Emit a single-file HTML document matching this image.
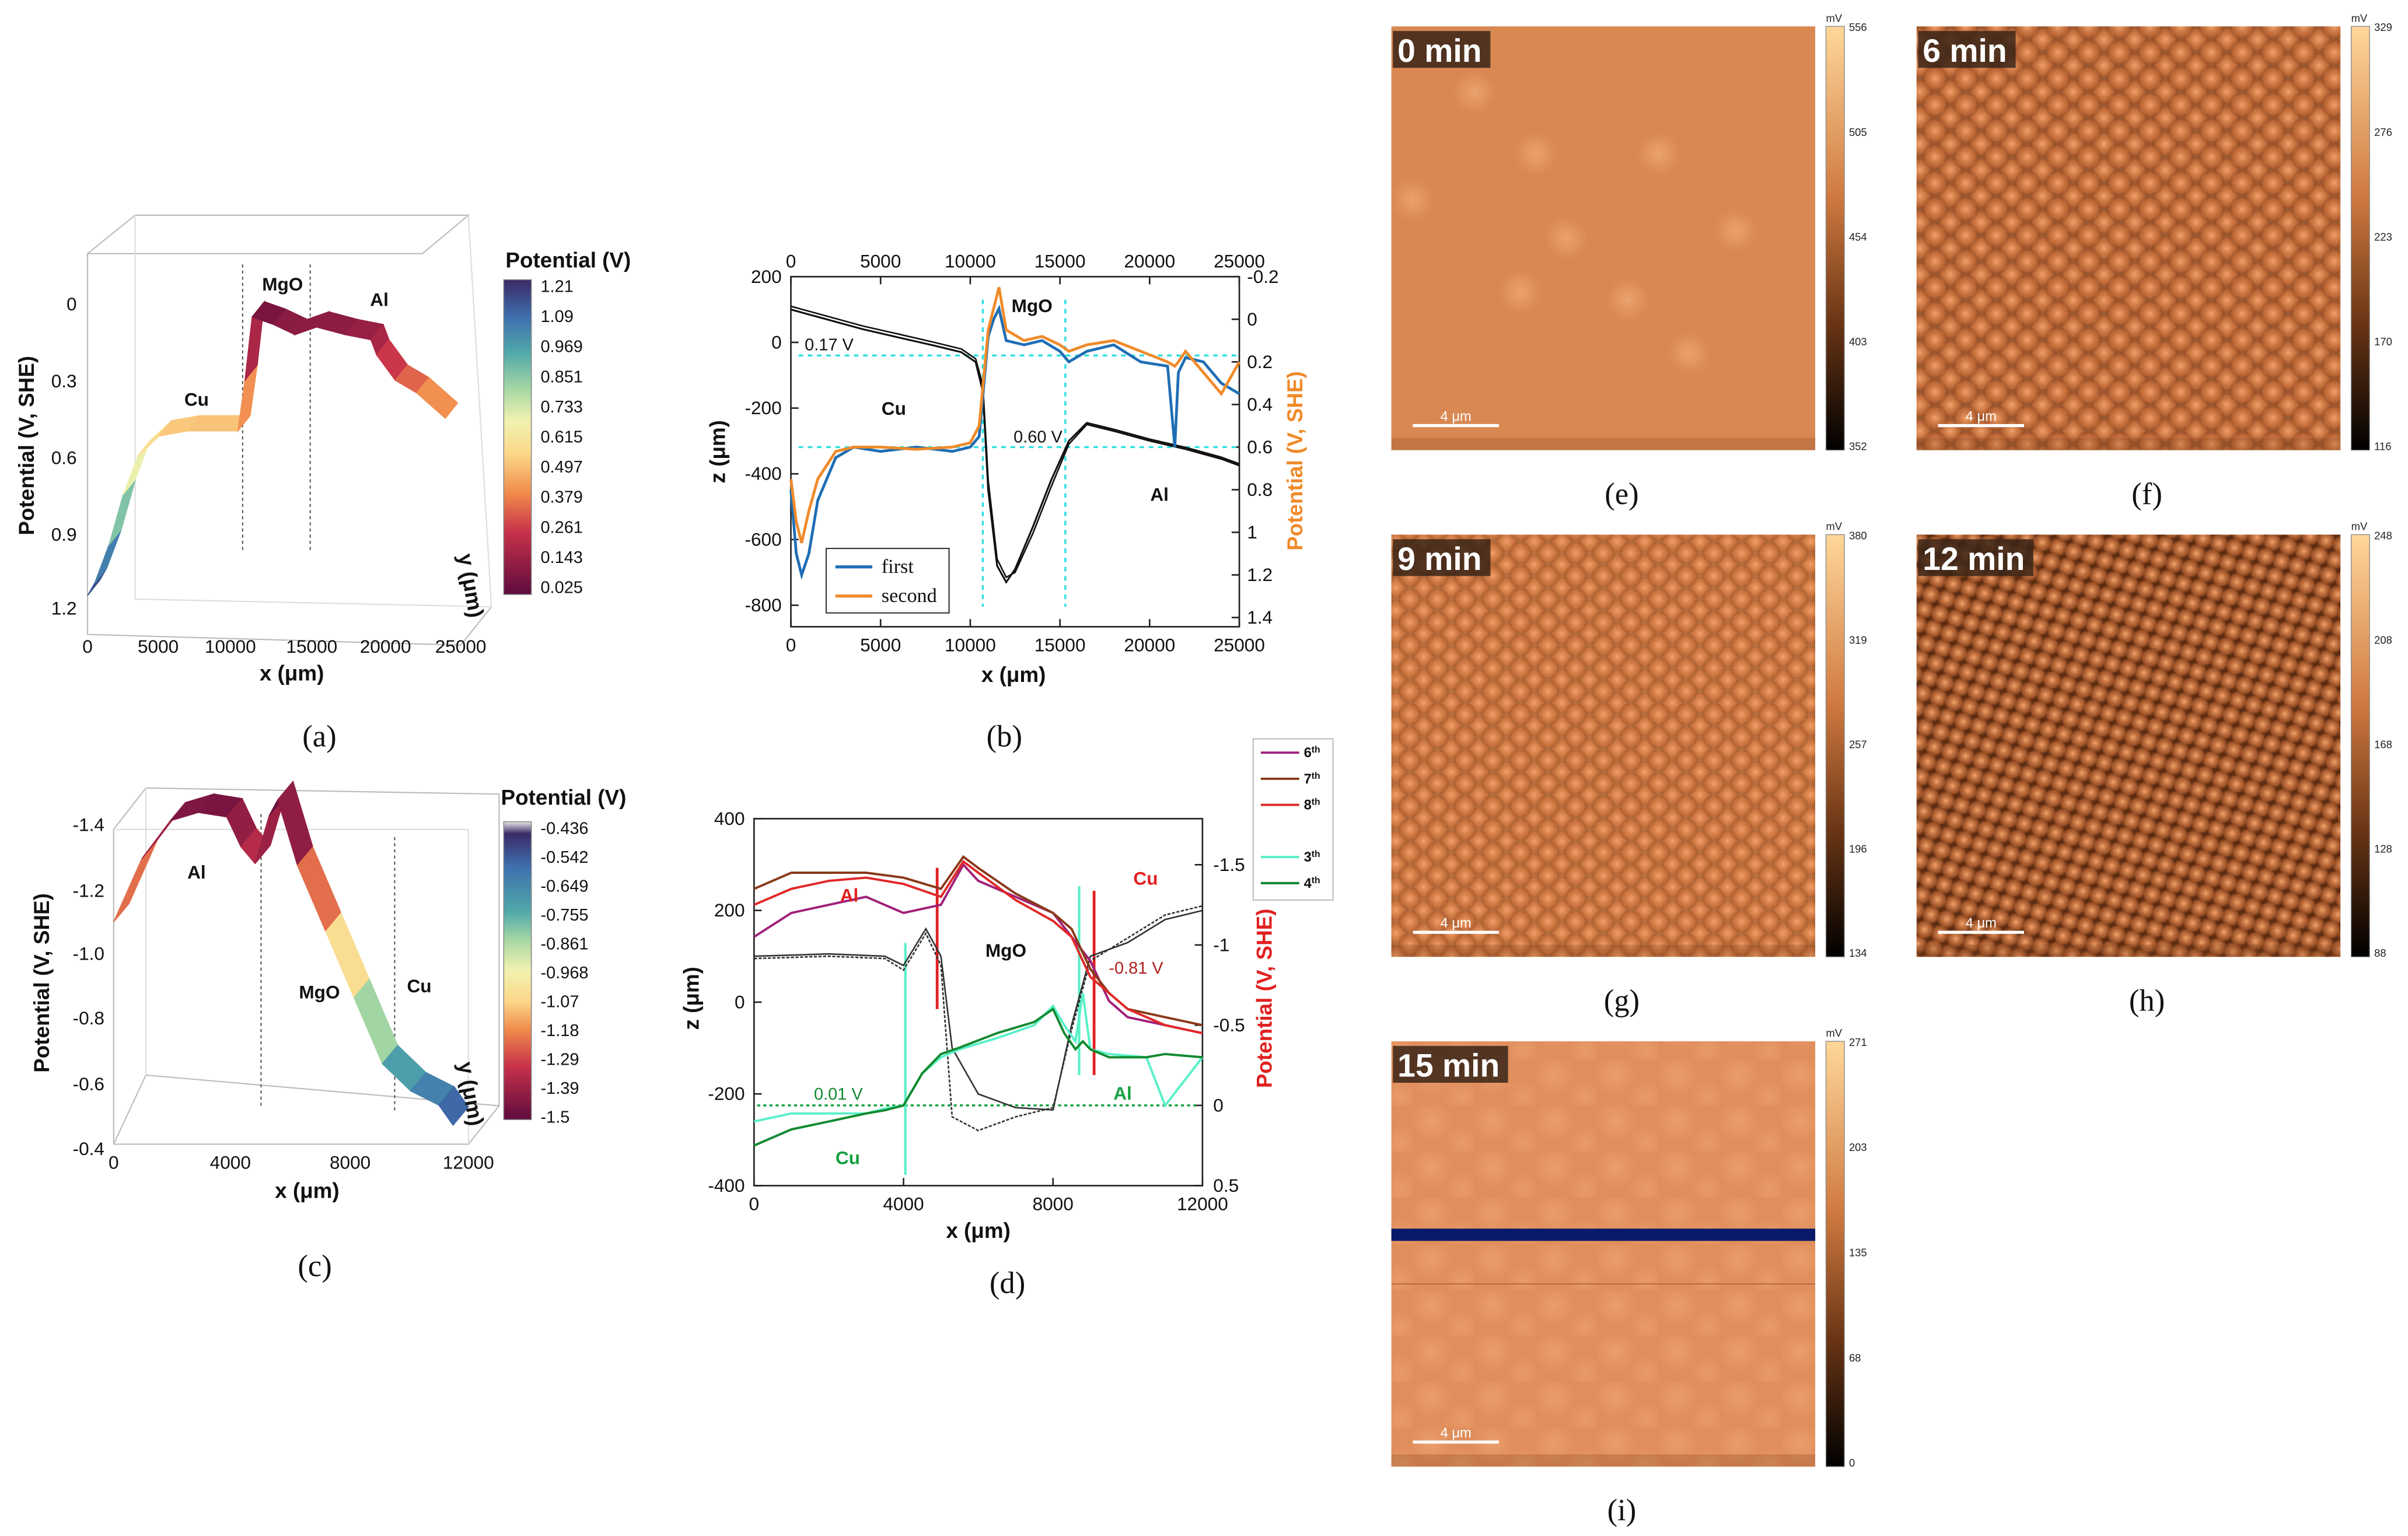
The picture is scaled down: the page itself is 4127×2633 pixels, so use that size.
<!DOCTYPE html>
<html><head><meta charset="utf-8"><style>
html,body{margin:0;padding:0;background:#fff;}
svg{display:block;font-family:"Liberation Sans",sans-serif;}
.tk{font-size:12px;fill:#111;}
.lb{font-size:14px;font-weight:bold;fill:#111;}
.cap{font-family:"Liberation Serif",serif;font-size:20px;fill:#111;}
.cbt{font-size:11px;fill:#111;}
.mt{font-size:7px;fill:#222;}
</style></head><body>
<svg id="fig" width="4127" height="2633" viewBox="0 0 1568 1000" xmlns="http://www.w3.org/2000/svg">
<defs>
<linearGradient id="cmA" x1="0" y1="1" x2="0" y2="0">
<stop offset="0" stop-color="#5e0b3d"/><stop offset="0.2" stop-color="#c8324a"/><stop offset="0.32" stop-color="#f08a4b"/><stop offset="0.45" stop-color="#fbd98a"/><stop offset="0.55" stop-color="#f2f2b0"/><stop offset="0.65" stop-color="#a8d8a4"/><stop offset="0.77" stop-color="#4fa8aa"/><stop offset="0.88" stop-color="#3f6fae"/><stop offset="1" stop-color="#3a2a66"/>
</linearGradient>
<linearGradient id="cmC" x1="0" y1="0" x2="0" y2="1">
<stop offset="0" stop-color="#e8e8e8"/><stop offset="0.04" stop-color="#3a2a66"/><stop offset="0.15" stop-color="#3f6fae"/><stop offset="0.3" stop-color="#4fa8aa"/><stop offset="0.4" stop-color="#a8d8a4"/><stop offset="0.5" stop-color="#f2f2b0"/><stop offset="0.6" stop-color="#fbd98a"/><stop offset="0.7" stop-color="#f08a4b"/><stop offset="0.82" stop-color="#c8324a"/><stop offset="1" stop-color="#5e0b3d"/>
</linearGradient>
<linearGradient id="cmI" x1="0" y1="1" x2="0" y2="0">
<stop offset="0" stop-color="#000"/><stop offset="0.3" stop-color="#6a3515"/><stop offset="0.6" stop-color="#d07a40"/><stop offset="1" stop-color="#ffd79a"/>
</linearGradient>
<radialGradient id="blob"><stop offset="0" stop-color="#f6b27c" stop-opacity="0.9"/><stop offset="1" stop-color="#f6b27c" stop-opacity="0"/></radialGradient>
<radialGradient id="blobD"><stop offset="0" stop-color="#f3a26a" stop-opacity="1"/><stop offset="0.7" stop-color="#c86d38" stop-opacity="0.6"/><stop offset="1" stop-color="#5a2a10" stop-opacity="0"/></radialGradient>
<pattern id="pf" width="20" height="17" patternUnits="userSpaceOnUse"><rect width="20" height="17" fill="#a85e33"/><circle cx="10" cy="8.5" r="9" fill="url(#blobD)"/><circle cx="0" cy="0" r="9" fill="url(#blobD)"/><circle cx="20" cy="0" r="9" fill="url(#blobD)"/><circle cx="0" cy="17" r="9" fill="url(#blobD)"/><circle cx="20" cy="17" r="9" fill="url(#blobD)"/></pattern>
<pattern id="pg" width="18" height="15" patternUnits="userSpaceOnUse"><rect width="18" height="15" fill="#c87a45"/><circle cx="9" cy="7.5" r="8" fill="url(#blobD)"/><circle cx="0" cy="0" r="8" fill="url(#blobD)"/><circle cx="18" cy="0" r="8" fill="url(#blobD)"/><circle cx="0" cy="15" r="8" fill="url(#blobD)"/><circle cx="18" cy="15" r="8" fill="url(#blobD)"/></pattern>
<pattern id="ph" width="16" height="14" patternUnits="userSpaceOnUse" patternTransform="rotate(-25)"><rect width="16" height="14" fill="#5a2a10"/><circle cx="8" cy="7" r="7" fill="url(#blobD)"/><circle cx="0" cy="0" r="7" fill="url(#blobD)"/><circle cx="16" cy="0" r="7" fill="url(#blobD)"/><circle cx="0" cy="14" r="7" fill="url(#blobD)"/><circle cx="16" cy="14" r="7" fill="url(#blobD)"/></pattern>
<pattern id="pi" width="40" height="30" patternUnits="userSpaceOnUse"><rect width="40" height="30" fill="#e08e5c"/><circle cx="12" cy="10" r="14" fill="url(#blob)" opacity="0.5"/><circle cx="32" cy="24" r="12" fill="url(#blob)" opacity="0.4"/></pattern>
</defs>
<g id="root"></g>
</svg>
<script>
// ---------- data ----------
const aX=[0,500,1500,2500,3500,5000,7000,9000,10500,11000,11500,13000,14500,16000,18000,19800,20200,21500,23000,25000];
const aPot=[1.15,1.1,0.95,0.75,0.6,0.52,0.5,0.5,0.5,0.3,0.05,0.08,0.12,0.09,0.12,0.14,0.2,0.3,0.35,0.45];
const cX=[0,1000,2000,3000,4000,4500,5000,5500,5800,6500,7500,8500,9500,10500,11500,12000];
const cPot=[-1.1,-1.3,-1.42,-1.45,-1.44,-1.35,-1.3,-1.45,-1.5,-1.3,-1.1,-0.9,-0.7,-0.62,-0.58,-0.52];
const bX=[0,2000,4000,6000,8000,9500,10300,10700,11000,11500,12000,12500,13500,14500,15500,16500,18000,20000,22000,24000,25000];
const bZ1=[100,70,40,15,-10,-30,-60,-150,-450,-680,-730,-690,-560,-420,-300,-245,-265,-295,-320,-350,-370];
const bZ2=[110,80,50,25,0,-20,-50,-130,-420,-660,-715,-700,-580,-440,-310,-250,-270,-300,-325,-355,-375];
const bPX=[0,300,600,1000,1500,2500,3500,5000,7000,9000,10000,10500,11000,11300,11600,12000,13000,14000,15000,15500,16500,18000,19500,21000,21400,21600,22000,23000,24000,25000];
const bFirst=[0.8,1.1,1.2,1.1,0.85,0.65,0.6,0.62,0.6,0.62,0.6,0.55,0.08,0.0,-0.05,0.1,0.12,0.1,0.15,0.2,0.15,0.12,0.2,0.22,0.6,0.25,0.18,0.2,0.3,0.35];
const bSecond=[0.75,0.95,1.05,0.9,0.75,0.62,0.6,0.6,0.61,0.6,0.58,0.5,0.05,-0.05,-0.15,0.05,0.1,0.08,0.12,0.15,0.12,0.1,0.15,0.2,0.22,0.2,0.15,0.25,0.35,0.2];
const dX=[0,1000,2000,3000,4000,5000,5600,6000,7000,8000,8500,9000,9500,10000,11000,12000];
const d6=[-1.05,-1.2,-1.25,-1.3,-1.2,-1.25,-1.5,-1.4,-1.3,-1.2,-1.05,-0.9,-0.65,-0.55,-0.5,-0.45];
const d7=[-1.35,-1.45,-1.45,-1.45,-1.42,-1.35,-1.55,-1.48,-1.32,-1.2,-1.1,-0.85,-0.7,-0.6,-0.55,-0.5];
const d8=[-1.25,-1.35,-1.4,-1.42,-1.38,-1.3,-1.52,-1.45,-1.28,-1.15,-1.05,-0.8,-0.7,-0.6,-0.5,-0.45];
const dgX=[0,1000,2000,3000,3500,4000,4500,5000,5500,6500,7500,8000,8300,8600,8800,9000,9500,10500,11000,12000];
const d3=[0.1,0.05,0.05,0.05,0.02,0.0,-0.2,-0.3,-0.35,-0.42,-0.5,-0.62,-0.5,-0.4,-0.7,-0.35,-0.32,-0.3,0.0,-0.3];
const d4=[0.25,0.15,0.1,0.05,0.03,0.0,-0.2,-0.32,-0.36,-0.45,-0.52,-0.6,-0.45,-0.35,-0.4,-0.35,-0.3,-0.3,-0.32,-0.3];
const dtX=[0,2000,3500,4000,4600,5000,5300,6000,7000,8000,8500,9000,10000,11000,12000];
const dT1=[100,105,100,80,160,100,-100,-200,-230,-235,-50,100,130,180,200];
const dT2=[95,100,95,70,150,80,-250,-280,-250,-230,-60,90,140,190,210];
const cbE=["556","505","454","403","352"],cbF=["329","276","223","170","116"],cbG=["380","319","257","196","134"],cbH=["248","208","168","128","88"],cbI=["271","203","135","68","0"];
const cbA=["1.21","1.09","0.969","0.851","0.733","0.615","0.497","0.379","0.261","0.143","0.025"];
const cbC=["-0.436","-0.542","-0.649","-0.755","-0.861","-0.968","-1.07","-1.18","-1.29","-1.39","-1.5"];

// ---------- helpers ----------
const NS="http://www.w3.org/2000/svg";const root=document.getElementById('root');
function el(t,a,p){const e=document.createElementNS(NS,t);for(const k in a)e.setAttribute(k,a[k]);(p||root).appendChild(e);return e;}
function txt(x,y,s,cls,extra,p){extra=Object.assign({},extra||{});let st=extra.style||'';
 if(extra['font-size']){st+=';font-size:'+extra['font-size']+'px';delete extra['font-size'];}
 if(extra['font-weight']){st+=';font-weight:'+extra['font-weight'];delete extra['font-weight'];}
 if(extra['font-family']){st+=';font-family:"'+extra['font-family']+'",serif';delete extra['font-family'];}
 if(st)extra.style=st;
 const e=el('text',Object.assign({x:x,y:y,class:cls||'tk'},extra),p);e.textContent=s;return e;}
function lin(d0,d1,r0,r1){return v=>r0+(v-d0)/(d1-d0)*(r1-r0);}
function pts(xs,ys,fx,fy){return xs.map((v,i)=>fx(v).toFixed(1)+','+fy(ys[i]).toFixed(1)).join(' ');}
const stopsA=[[0,'#5e0b3d'],[0.2,'#c8324a'],[0.32,'#f08a4b'],[0.45,'#fbd98a'],[0.55,'#f2f2b0'],[0.65,'#a8d8a4'],[0.77,'#4fa8aa'],[0.88,'#3f6fae'],[1,'#3a2a66']];
function cmap(t){t=Math.max(0,Math.min(1,t));for(let i=1;i<stopsA.length;i++){if(t<=stopsA[i][0]){const a=stopsA[i-1],b=stopsA[i];const f=(t-a[0])/(b[0]-a[0]);const ca=parseInt(a[1].slice(1),16),cb=parseInt(b[1].slice(1),16);const r=Math.round(((ca>>16)&255)*(1-f)+((cb>>16)&255)*f),g=Math.round(((ca>>8)&255)*(1-f)+((cb>>8)&255)*f),bl=Math.round((ca&255)*(1-f)+(cb&255)*f);return `rgb(${r},${g},${bl})`;}}return stopsA[stopsA.length-1][1];}

// ---------- panel a ----------
let g=el('g',{});
el('polyline',{points:'57,165 275,165 305,140 88,140 57,165 57,413 300,420 320,395',fill:'none',stroke:'#bbb','stroke-width':0.8},g);
el('polyline',{points:'88,140 88,390 320,395 305,140',fill:'none',stroke:'#ddd','stroke-width':0.8},g);
el('line',{x1:158,y1:172,x2:158,y2:360,stroke:'#555','stroke-dasharray':'2,2','stroke-width':0.8},g);
el('line',{x1:202,y1:172,x2:202,y2:360,stroke:'#555','stroke-dasharray':'2,2','stroke-width':0.8},g);
const aSX=lin(0,25000,57,290), aSY=v=>198+v/1.2*198;
for(let i=0;i<aX.length-1;i++){const x0=aSX(aX[i]),x1=aSX(aX[i+1]),y0=aSY(aPot[i]),y1=aSY(aPot[i+1]);
 const q=el('polygon',{points:`${x0},${y0} ${x1},${y1} ${x1+8},${y1-10} ${x0+8},${y0-10}`,fill:cmap((aPot[i]+aPot[i+1])/2/1.21),stroke:cmap((aPot[i]+aPot[i+1])/2/1.21),'stroke-width':0.6},g);
 }
[["0",198],["0.3",248],["0.6",298],["0.9",348],["1.2",396]].forEach(t=>txt(50,t[1]+4,t[0],'tk',{'text-anchor':'end'},g));
[["0",57],["5000",103],["10000",150],["15000",203],["20000",251],["25000",300]].forEach(t=>txt(t[1],425,t[0],'tk',{'text-anchor':'middle'},g));
txt(190,443,'x (μm)','lb',{'text-anchor':'middle'},g);
txt(22,290,'Potential (V, SHE)','lb',{'text-anchor':'middle',transform:'rotate(-90 22 290)'},g);
txt(302,382,'y (μm)','lb',{'text-anchor':'middle',transform:'rotate(80 302 382)'},g);
txt(128,264,'Cu','lb',{'text-anchor':'middle','font-size':12},g);txt(184,189,'MgO','lb',{'text-anchor':'middle','font-size':12},g);txt(247,199,'Al','lb',{'text-anchor':'middle','font-size':12},g);
el('rect',{x:328,y:182,width:18,height:205,fill:'url(#cmA)',stroke:'#888','stroke-width':0.6},g);
cbA.forEach((s,i)=>txt(352,190+i*19.6,s,'cbt',{},g));
txt(370,174,'Potential (V)','lb',{'text-anchor':'middle'},g);
txt(208,486,'(a)','cap',{'text-anchor':'middle'},g);

// ---------- panel c ----------
g=el('g',{});
el('polyline',{points:'74,745 305,745 325,720 95,700 74,745 74,540 95,513 325,517 325,720',fill:'none',stroke:'#bbb','stroke-width':0.8},g);
el('line',{x1:95,y1:513,x2:95,y2:700,stroke:'#ddd','stroke-width':0.8},g);
el('line',{x1:74,y1:540,x2:305,y2:540,stroke:'#ddd','stroke-width':0.8},g);el('line',{x1:305,y1:540,x2:305,y2:745,stroke:'#ddd','stroke-width':0.8},g);
el('line',{x1:170,y1:530,x2:170,y2:720,stroke:'#555','stroke-dasharray':'2,2','stroke-width':0.8},g);
el('line',{x1:257,y1:545,x2:257,y2:725,stroke:'#555','stroke-dasharray':'2,2','stroke-width':0.8},g);
const cSX=lin(0,12000,74,295), cSY=lin(-1.4,-0.4,537,748);
for(let i=0;i<cX.length-1;i++){const x0=cSX(cX[i]),x1=cSX(cX[i+1]),y0=cSY(cPot[i])+cX[i]/12000*10,y1=cSY(cPot[i+1])+cX[i+1]/12000*10;
 const t=(cPot[i]+cPot[i+1])/2;const c=cmap((t+1.5)/1.064);
 const q=el('polygon',{points:`${x0},${y0} ${x1},${y1} ${x1+10},${y1-12} ${x0+10},${y0-12}`,fill:c,stroke:c,'stroke-width':0.6},g);
 }
[["-1.4",537],["-1.2",580],["-1.0",621],["-0.8",663],["-0.6",706],["-0.4",748]].forEach(t=>txt(68,t[1]+4,t[0],'tk',{'text-anchor':'end'},g));
[["0",74],["4000",150],["8000",228],["12000",305]].forEach(t=>txt(t[1],761,t[0],'tk',{'text-anchor':'middle'},g));
txt(200,780,'x (μm)','lb',{'text-anchor':'middle'},g);
txt(32,640,'Potential (V, SHE)','lb',{'text-anchor':'middle',transform:'rotate(-90 32 640)'},g);
txt(302,713,'y (μm)','lb',{'text-anchor':'middle',transform:'rotate(80 302 713)'},g);
txt(128,572,'Al','lb',{'text-anchor':'middle','font-size':12},g);txt(208,650,'MgO','lb',{'text-anchor':'middle','font-size':12},g);txt(273,646,'Cu','lb',{'text-anchor':'middle','font-size':12},g);
el('rect',{x:328,y:535,width:18,height:194,fill:'url(#cmC)',stroke:'#888','stroke-width':0.6},g);
cbC.forEach((s,i)=>txt(352,543+i*18.8,s,'cbt',{},g));
txt(367,524,'Potential (V)','lb',{'text-anchor':'middle'},g);
txt(205,831,'(c)','cap',{'text-anchor':'middle'},g);

// ---------- panel b ----------
g=el('g',{});
const bx=lin(0,25000,515,807), bz=lin(200,-800,180,394), bp=lin(-0.2,1.4,180,402);
el('rect',{x:515,y:180,width:292,height:228,fill:'none',stroke:'#222','stroke-width':1},g);
[0,5000,10000,15000,20000,25000].forEach(v=>{txt(bx(v),174,String(v),'tk',{'text-anchor':'middle'},g);txt(bx(v),424,String(v),'tk',{'text-anchor':'middle'},g);el('line',{x1:bx(v),y1:180,x2:bx(v),y2:185,stroke:'#222'},g);el('line',{x1:bx(v),y1:408,x2:bx(v),y2:403,stroke:'#222'},g);});
[200,0,-200,-400,-600,-800].forEach(v=>{txt(509,bz(v)+4,String(v),'tk',{'text-anchor':'end'},g);el('line',{x1:515,y1:bz(v),x2:520,y2:bz(v),stroke:'#222'},g);});
["-0.2","0","0.2","0.4","0.6","0.8","1","1.2","1.4"].forEach(s=>{const v=parseFloat(s);txt(812,bp(v)+4,s,'tk',{},g);el('line',{x1:807,y1:bp(v),x2:802,y2:bp(v),stroke:'#222'},g);});
txt(660,444,'x (μm)','lb',{'text-anchor':'middle'},g);
txt(472,294,'z (μm)','lb',{'text-anchor':'middle',transform:'rotate(-90 472 294)'},g);
txt(848,300,'Potential (V, SHE)','lb',{'text-anchor':'middle',style:'fill:#f08a2a',transform:'rotate(-90 848 300)'},g);
[[bp(0.17)],[bp(0.6)]].forEach(a=>el('line',{x1:520,y1:a[0],x2:805,y2:a[0],stroke:'#2fe0e0','stroke-dasharray':'3,3','stroke-width':1.3},g));
[10700,15300].forEach(v=>el('line',{x1:bx(v),y1:195,x2:bx(v),y2:395,stroke:'#2fe0e0','stroke-dasharray':'3,3','stroke-width':1.3},g));
let l=el('polyline',{points:pts(bX,bZ1,bx,bz),fill:'none',stroke:'#111','stroke-width':1.2},g);
l=el('polyline',{points:pts(bX,bZ2,bx,bz),fill:'none',stroke:'#111','stroke-width':1},g);
l=el('polyline',{points:pts(bPX,bFirst,bx,bp),fill:'none',stroke:'#1f6eb4','stroke-width':1.8},g);
l=el('polyline',{points:pts(bPX,bSecond,bx,bp),fill:'none',stroke:'#f08a2a','stroke-width':1.8},g);
txt(524,228,'0.17 V','tk',{'font-size':11},g);txt(660,288,'0.60 V','tk',{'font-size':11},g);
txt(582,270,'Cu','lb',{'font-size':12,'text-anchor':'middle'},g);txt(672,203,'MgO','lb',{'font-size':12,'text-anchor':'middle'},g);txt(755,326,'Al','lb',{'font-size':12,'text-anchor':'middle'},g);
let lg=el('g',{},g);
el('rect',{x:538,y:357,width:80,height:42,fill:'#fff',stroke:'#333','stroke-width':0.8},lg);
el('line',{x1:544,y1:369,x2:568,y2:369,stroke:'#1f6eb4','stroke-width':2},lg);txt(574,373,'first','tk',{'font-family':'Liberation Serif','font-size':13},lg);
el('line',{x1:544,y1:388,x2:568,y2:388,stroke:'#f08a2a','stroke-width':2},lg);txt(574,392,'second','tk',{'font-family':'Liberation Serif','font-size':13},lg);
txt(654,486,'(b)','cap',{'text-anchor':'middle'},g);

// ---------- panel d ----------
g=el('g',{});
const dx=lin(0,12000,491,783), dz=lin(400,-400,533,772), dp=lin(-1.5,0.5,563,772);
el('rect',{x:491,y:533,width:292,height:239,fill:'none',stroke:'#222','stroke-width':1},g);
[0,4000,8000,12000].forEach(v=>{txt(dx(v),788,String(v),'tk',{'text-anchor':'middle'},g);el('line',{x1:dx(v),y1:772,x2:dx(v),y2:767,stroke:'#222'},g);});
[400,200,0,-200,-400].forEach(v=>{txt(485,dz(v)+4,String(v),'tk',{'text-anchor':'end'},g);el('line',{x1:491,y1:dz(v),x2:496,y2:dz(v),stroke:'#222'},g);});
["-1.5","-1","-0.5","0","0.5"].forEach(s=>{const v=parseFloat(s);txt(790,dp(v)+4,s,'tk',{},g);el('line',{x1:783,y1:dp(v),x2:778,y2:dp(v),stroke:'#222'},g);});
txt(637,806,'x (μm)','lb',{'text-anchor':'middle'},g);
txt(455,650,'z (μm)','lb',{'text-anchor':'middle',transform:'rotate(-90 455 650)'},g);
txt(828,650,'Potential (V, SHE)','lb',{'text-anchor':'middle',style:'fill:#e02020',transform:'rotate(-90 828 650)'},g);
el('line',{x1:493,y1:dp(0),x2:781,y2:dp(0),stroke:'#14a040','stroke-dasharray':'2,2','stroke-width':1.3},g);
[[4050,'#5af0c8',614,765],[8700,'#5af0c8',577,700]].forEach(a=>el('line',{x1:dx(a[0]),y1:a[2],x2:dx(a[0]),y2:a[3],stroke:a[1],'stroke-width':1.6},g));
[[4900,565,657],[9100,580,700]].forEach(a=>el('line',{x1:dx(a[0]),y1:a[1],x2:dx(a[0]),y2:a[2],stroke:'#e02020','stroke-width':1.8},g));
l=el('polyline',{points:pts(dtX,dT1,dx,dz),fill:'none',stroke:'#333','stroke-width':1},g);
l=el('polyline',{points:pts(dtX,dT2,dx,dz),fill:'none',stroke:'#333','stroke-width':1,'stroke-dasharray':'2,1'},g);
[[d6,'#a0207a','series-6th'],[d7,'#8a3a1a','series-7th'],[d8,'#e02828','series-8th']].forEach(s=>{l=el('polyline',{points:pts(dX,s[0],dx,dp),fill:'none',stroke:s[1],'stroke-width':1.5},g);});
[[d3,'#5af0c8','series-3rd'],[d4,'#128a30','series-4th']].forEach(s=>{l=el('polyline',{points:pts(dgX,s[0],dx,dp),fill:'none',stroke:s[1],'stroke-width':1.5},g);});
txt(553,587,'Al','lb',{'font-size':12,'text-anchor':'middle',style:'fill:#e02020'},g);
txt(746,576,'Cu','lb',{'font-size':12,'text-anchor':'middle',style:'fill:#e02020'},g);
txt(655,623,'MgO','lb',{'font-size':12,'text-anchor':'middle'},g);
txt(731,716,'Al','lb',{'font-size':12,'text-anchor':'middle',style:'fill:#14a040'},g);
txt(552,758,'Cu','lb',{'font-size':12,'text-anchor':'middle',style:'fill:#14a040'},g);
txt(530,716,'0.01 V','tk',{'font-size':11,style:'fill:#128a30'},g);
txt(722,634,'-0.81 V','tk',{'font-size':11,style:'fill:#b02020'},g);
lg=el('g',{},g);
el('rect',{x:816,y:481,width:52,height:105,fill:'#fff',stroke:'#aaa','stroke-width':0.6},lg);
[['6',490,'#a0207a'],['7',507,'#8a3a1a'],['8',524,'#e02828'],['3',558,'#5af0c8'],['4',575,'#128a30']].forEach(a=>{el('line',{x1:821,y1:a[1],x2:846,y2:a[1],stroke:a[2],'stroke-width':1.5},lg);const t=txt(849,a[1]+3,a[0],'tk',{'font-size':9,'font-weight':'bold'},lg);const ts=el('tspan',{dy:-3,style:'font-size:6px'},t);ts.textContent='th';});
txt(656,842,'(d)','cap',{'text-anchor':'middle'},g);

// ---------- images e-i ----------
const imgs=[
 {n:'e',x:906,y:17,h:276,fill:'#d98852',lab:'0 min',cb:cbE,cap:'(e)'},
 {n:'f',x:1248,y:17,h:276,fill:'url(#pf)',lab:'6 min',cb:cbF,cap:'(f)'},
 {n:'g',x:906,y:348,h:275,fill:'url(#pg)',lab:'9 min',cb:cbG,cap:'(g)'},
 {n:'h',x:1248,y:348,h:275,fill:'url(#ph)',lab:'12 min',cb:cbH,cap:'(h)'},
 {n:'i',x:906,y:678,h:277,fill:'url(#pi)',lab:'15 min',cb:cbI,cap:'(i)'}];
imgs.forEach(m=>{
 const gg=el('g',{});
 el('rect',{x:m.x,y:m.y,width:276,height:m.h,fill:m.fill},gg);
 if(m.n==='e'){[[1000,100],[1080,100],[990,190],[1060,195],[920,130],[1020,155],[1130,150],[1100,230],[960,60]].forEach(c=>el('circle',{cx:c[0],cy:c[1],r:14,fill:'url(#blob)',opacity:0.7},gg));}
 if(m.n==='i'){el('rect',{x:906,y:800,width:276,height:8,fill:'#0a1a6a'},gg);el('line',{x1:906,y1:836,x2:1182,y2:836,stroke:'#a05030','stroke-width':0.5},gg);}
 el('rect',{x:m.x,y:m.y+m.h-8,width:276,height:8,fill:'#7a3e1a',opacity:0.25},gg);
 el('rect',{x:m.x+1,y:m.y+3,width:m.lab.length*11.5+6,height:24,fill:'#3a2418',opacity:0.85},gg);
 txt(m.x+4,m.y+23,m.lab,'tk',{'font-size':21,'font-weight':'bold',style:'fill:#fff'},gg);
 el('line',{x1:m.x+14,y1:m.y+m.h-16,x2:m.x+70,y2:m.y+m.h-16,stroke:'#fff','stroke-width':2},gg);
 txt(m.x+42,m.y+m.h-19,'4 μm','tk',{'font-size':9,'text-anchor':'middle',style:'fill:#fff'},gg);
 const cb=el('rect',{x:m.x+283,y:m.y,width:12,height:m.h,fill:'url(#cmI)',stroke:'#888','stroke-width':0.5},gg);
 
 txt(m.x+283,m.y-3,'mV','mt',{},gg);
 m.cb.forEach((s,i)=>txt(m.x+298,m.y+3+i*(m.h-3)/4,s,'mt',{},gg));
 txt(m.x+150,m.y+m.h+35,m.cap,'cap',{'text-anchor':'middle'},gg);
});
</script>
</body></html>
